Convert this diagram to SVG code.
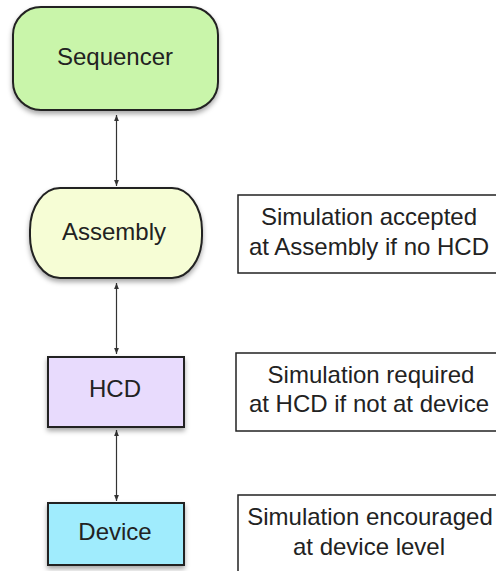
<svg xmlns="http://www.w3.org/2000/svg" width="496" height="571" viewBox="0 0 496 571">
<style>
.node{stroke:#222;stroke-width:2}
.note{fill:#fff;stroke:#222;stroke-width:1.5}
text{font-family:"Liberation Sans",Arial,sans-serif;font-size:24px;fill:#222;text-anchor:middle}
.conn{stroke:#333;stroke-width:1.2;fill:none;marker-start:url(#ah);marker-end:url(#ah)}
</style>
<defs>
<filter id="sh" x="-20%" y="-20%" width="140%" height="150%">
<feDropShadow dx="0" dy="3" stdDeviation="2.5" flood-color="#000" flood-opacity="0.35"/>
</filter>
<marker id="ah" viewBox="0 0 10 10" refX="10" refY="5" markerWidth="6" markerHeight="6" orient="auto-start-reverse" markerUnits="userSpaceOnUse">
<path d="M0,1 L10,5 L0,9 z" fill="#333"/>
</marker>
</defs>
<rect width="496" height="571" fill="#fff"/>
<g id="connectors">
<line class="conn" x1="116.5" y1="115" x2="116.5" y2="186"/>
<line class="conn" x1="116.5" y1="283" x2="116.5" y2="354"/>
<line class="conn" x1="116.5" y1="430" x2="116.5" y2="501"/>
</g>
<g id="sequencer">
<rect class="node" x="13" y="7" width="205" height="103" rx="28" ry="28" fill="#c9f5aa" filter="url(#sh)"/>
<text x="115" y="65">Sequencer</text>
</g>
<g id="assembly">
<rect class="node" x="30" y="188" width="172" height="90" rx="30" ry="42" fill="#f6fdd5" filter="url(#sh)"/>
<text x="114" y="240">Assembly</text>
</g>
<g id="hcd">
<rect class="node" x="48" y="357" width="136" height="70" fill="#e8dbfd" filter="url(#sh)"/>
<text x="115" y="397">HCD</text>
</g>
<g id="device">
<rect class="node" x="48" y="503" width="136" height="62" fill="#a0ecfd" filter="url(#sh)"/>
<text x="115" y="540">Device</text>
</g>
<g id="note-assembly">
<rect class="note" x="238" y="195" width="270" height="78"/>
<text x="369" y="225">Simulation accepted</text>
<text x="369" y="255">at Assembly if no HCD</text>
</g>
<g id="note-hcd">
<rect class="note" x="236" y="353" width="272" height="78"/>
<text x="371" y="383">Simulation required</text>
<text x="369" y="412">at HCD if not at device</text>
</g>
<g id="note-device">
<rect class="note" x="238" y="495" width="270" height="90"/>
<text x="370" y="525">Simulation encouraged</text>
<text x="369" y="555">at device level</text>
</g>
</svg>
